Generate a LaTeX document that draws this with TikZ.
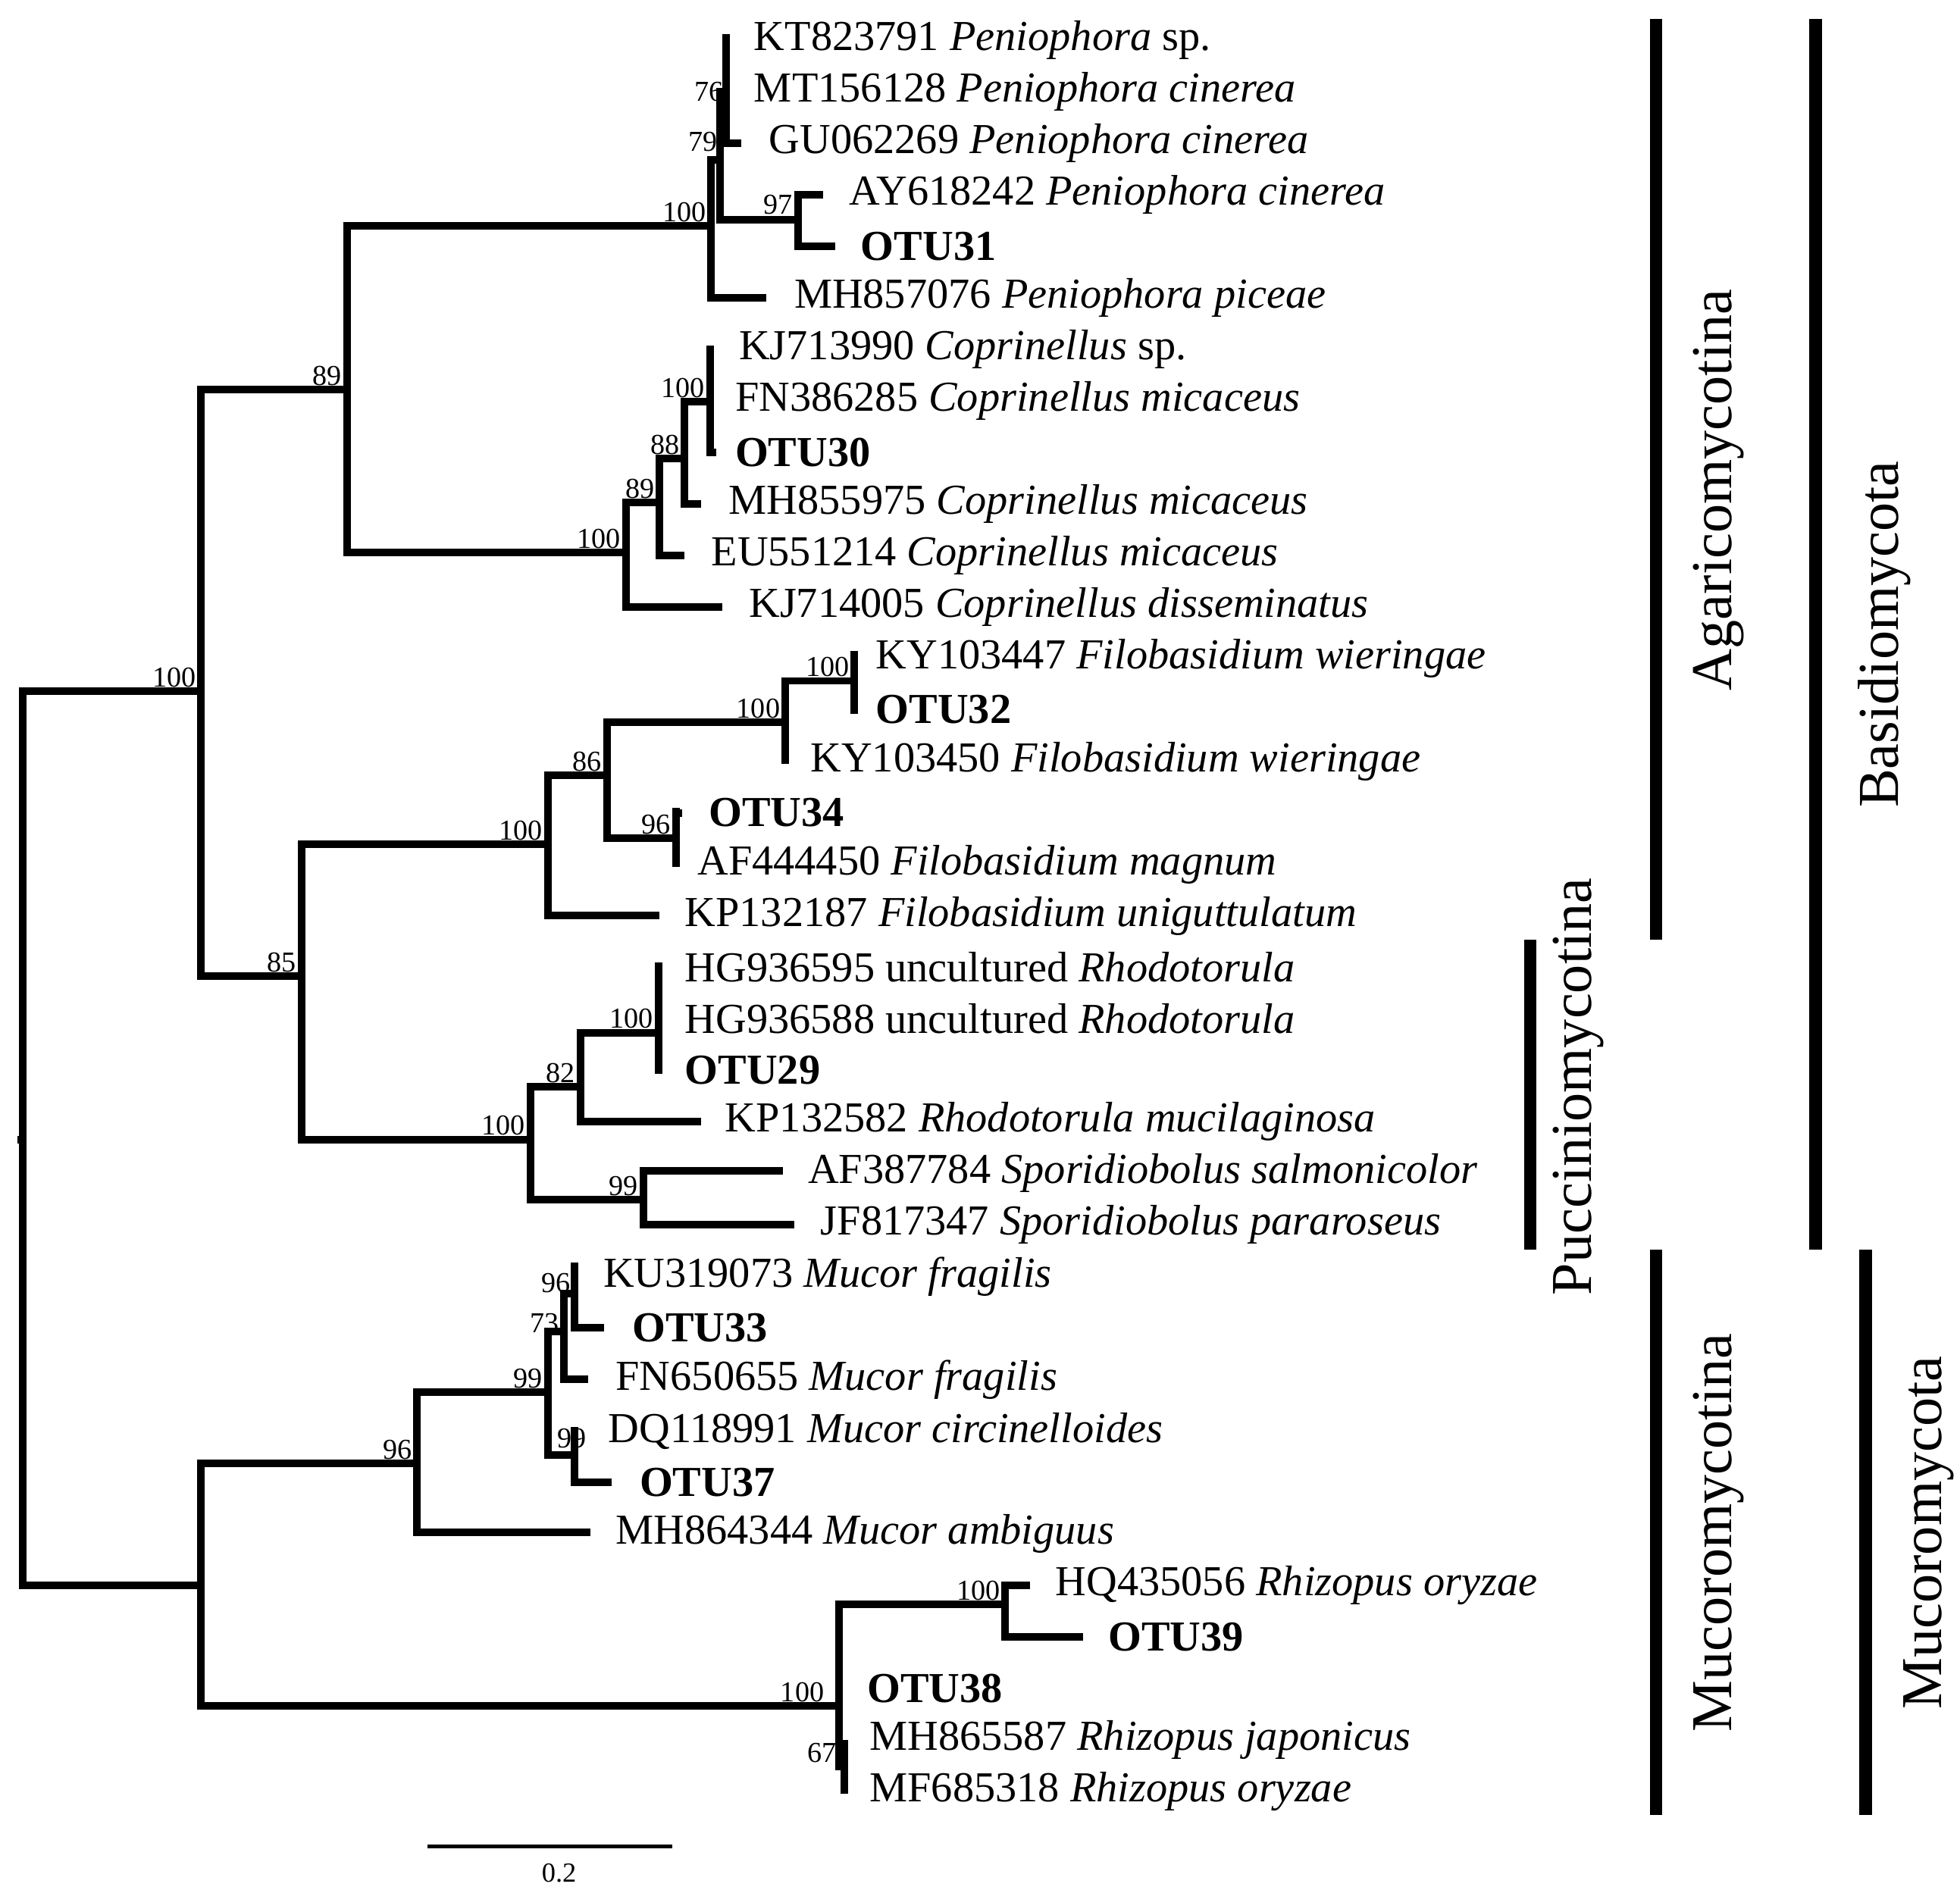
\documentclass[tikz,border=0pt]{standalone}
\usepackage{fontspec}
\setmainfont{Liberation Serif}
\begin{document}
\begin{tikzpicture}[x=1pt,y=-1pt,
  br/.style={line width=6pt,line cap=butt,line join=miter},
  bar/.style={line width=10pt},
  leaf/.style={anchor=west,inner sep=0pt,font=\fontsize{34}{34}\selectfont},
  otu/.style={leaf,font=\fontsize{34}{34}\selectfont\bfseries},
  bs/.style={anchor=south east,inner sep=1pt,font=\fontsize{23}{23}\selectfont},
  clade/.style={rotate=90,font=\fontsize{46}{46}\selectfont}]
\useasboundingbox (0,0) rectangle (1560,1504);
% root
\draw[br] (14,907)--(18,907);
\draw[br] (160,550)--(18,550)--(18,1262)--(160,1262);
\node[bs] at (157,548) {100};
% node A
\draw[br] (276,310)--(160,310)--(160,777)--(240,777);
\node[bs] at (273,308) {89};
\node[bs] at (237,775) {85};
% node B
\draw[br] (566,180)--(276,180)--(276,440)--(498,440);
\node[bs] at (563,178) {100};
\node[bs] at (495,438) {100};
% Peniophora
\draw[br] (573,127)--(566,127)--(566,237)--(610,237);
\draw[br] (578,73)--(573,73)--(573,175)--(635,175);
\node[bs] at (572,122) {79};
\draw[br] (578,27)--(578,114)--(590,114);
\node[bs] at (577,82) {76};
\draw[br] (655,155)--(635,155)--(635,196)--(665,196);
\node[bs] at (632,172) {97};
% Coprinellus
\draw[br] (525,400)--(498,400)--(498,483)--(575,483);
\node[bs] at (522,398) {89};
\draw[br] (545,365)--(525,365)--(525,442)--(545,442);
\node[bs] at (542,363) {88};
\draw[br] (565,320)--(545,320)--(545,401)--(558,401);
\node[bs] at (562,318) {100};
\draw[br] (565,275)--(565,360)--(570,360);
% node C
\draw[br] (436,672)--(240,672)--(240,907)--(422,907);
\node[bs] at (433,670) {100};
\node[bs] at (419,905) {100};
% Filobasidium
\draw[br] (483,617)--(436,617)--(436,729)--(525,729);
\node[bs] at (480,615) {86};
\draw[br] (625,575)--(483,575)--(483,667)--(538,667);
\node[bs] at (622,573) {100};
\node[bs] at (535,665) {96};
\draw[br] (680,542)--(625,542)--(625,608);
\node[bs] at (677,540) {100};
\draw[br] (680,518)--(680,568);
\draw[br] (538,643)--(538,690);
\draw[br] (538,647)--(543,647);
% Rhodotorula
\draw[br] (462,865)--(422,865)--(422,955)--(512,955);
\node[bs] at (459,863) {82};
\node[bs] at (509,953) {99};
\draw[br] (524,822)--(462,822)--(462,893)--(558,893);
\node[bs] at (521,820) {100};
\draw[br] (524,766)--(524,855);
\draw[br] (623,932)--(512,932)--(512,975)--(632,975);
% node M
\draw[br] (332,1165)--(160,1165)--(160,1358)--(668,1358);
\node[bs] at (329,1163) {96};
\node[bs] at (657,1356) {100};
% Mucor
\draw[br] (436,1108)--(332,1108)--(332,1220)--(470,1220);
\node[bs] at (433,1106) {99};
\draw[br] (449,1060)--(436,1060)--(436,1158)--(457,1158);
\draw[br] (457,1030)--(449,1030)--(449,1098)--(468,1098);
\node[bs] at (446,1062) {73};
\draw[br] (457,1005)--(457,1057)--(481,1057);
\node[bs] at (455,1030) {96};
\draw[br] (460,1139)--(457,1139)--(457,1180)--(487,1180);
\node[bs] at (468,1154) {99};
% Rhizopus
\draw[br] (800,1277)--(668,1277)--(668,1406)--(672,1406);
\draw[br] (672,1385)--(672,1428);
\node[bs] at (667,1404) {67};
\draw[br] (820,1262)--(800,1262)--(800,1303)--(862,1303);
\node[bs] at (797,1275) {100};
% leaf labels
\node[leaf] at (600,32) {KT823791 \textit{Peniophora} sp.};
\node[leaf] at (600,73) {MT156128 \textit{Peniophora cinerea}};
\node[leaf] at (612,114) {GU062269 \textit{Peniophora cinerea}};
\node[leaf] at (676,155) {AY618242 \textit{Peniophora cinerea}};
\node[otu] at (685,196) {OTU31};
\node[leaf] at (632,237) {MH857076 \textit{Peniophora piceae}};
\node[leaf] at (588,278) {KJ713990 \textit{Coprinellus} sp.};
\node[leaf] at (585,319) {FN386285 \textit{Coprinellus micaceus}};
\node[otu] at (585,360) {OTU30};
\node[leaf] at (580,401) {MH855975 \textit{Coprinellus micaceus}};
\node[leaf] at (566,442) {EU551214 \textit{Coprinellus micaceus}};
\node[leaf] at (596,483) {KJ714005 \textit{Coprinellus disseminatus}};
\node[leaf] at (697,524) {KY103447 \textit{Filobasidium wieringae}};
\node[otu] at (697,565) {OTU32};
\node[leaf] at (645,606) {KY103450 \textit{Filobasidium wieringae}};
\node[otu] at (564,647) {OTU34};
\node[leaf] at (555,688) {AF444450 \textit{Filobasidium magnum}};
\node[leaf] at (545,729) {KP132187 \textit{Filobasidium uniguttulatum}};
\node[leaf] at (545,770) {HG936595 uncultured \textit{Rhodotorula}};
\node[leaf] at (545,811) {HG936588 uncultured \textit{Rhodotorula}};
\node[otu] at (545,852) {OTU29};
\node[leaf] at (577,893) {KP132582 \textit{Rhodotorula mucilaginosa}};
\node[leaf] at (643,934) {AF387784 \textit{Sporidiobolus salmonicolor}};
\node[leaf] at (653,975) {JF817347 \textit{Sporidiobolus pararoseus}};
\node[leaf] at (480,1016) {KU319073 \textit{Mucor fragilis}};
\node[otu] at (503,1057) {OTU33};
\node[leaf] at (490,1098) {FN650655 \textit{Mucor fragilis}};
\node[leaf] at (484,1139) {DQ118991 \textit{Mucor circinelloides}};
\node[otu] at (509,1180) {OTU37};
\node[leaf] at (490,1221) {MH864344 \textit{Mucor ambiguus}};
\node[leaf] at (840,1262) {HQ435056 \textit{Rhizopus oryzae}};
\node[otu] at (882,1303) {OTU39};
\node[otu] at (690,1344) {OTU38};
\node[leaf] at (692,1385) {MH865587 \textit{Rhizopus japonicus}};
\node[leaf] at (692,1426) {MF685318 \textit{Rhizopus oryzae}};
% clade bars
\draw[bar] (1318,15)--(1318,748);
\node[clade] (ag) at (1368,390) {Agaricomycotina};
\draw[bar] (1218,748)--(1218,995);
\node[clade] (pu) at (1256,865) {Pucciniomycotina};
\draw[bar] (1318,995)--(1318,1445);
\node[clade] (mu) at (1368,1220) {Mucoromycotina};
\draw[bar] (1445,15)--(1445,995);
\node[clade] (ba) at (1500,505) {Basidiomycota};
\draw[bar] (1485,995)--(1485,1445);
\node[clade] (my) at (1535,1220) {Mucoromycota};
% scale
\draw[line width=3pt] (340,1470)--(535,1470);
\node[font=\fontsize{22}{22}\selectfont] at (445,1491) {0.2};
\end{tikzpicture}
\end{document}
